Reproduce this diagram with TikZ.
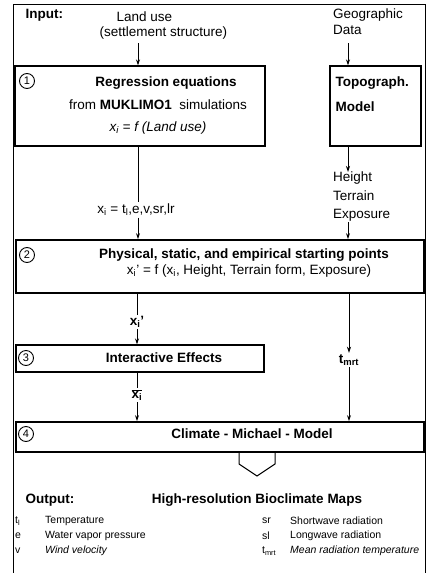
\documentclass[tikz,border=0pt]{standalone}
\usepackage{fontspec}
\setmainfont{Liberation Sans}
\usepackage{tikz}
\usetikzlibrary{arrows.meta,positioning,calc}

\begin{document}
\begin{tikzpicture}[
    x=1pt,y=-1pt,
    font=\fontsize{13.5}{16}\selectfont,
    >={Stealth[length=6pt,width=4pt]},
    stage/.style={draw,line width=1.4pt,inner sep=0pt},
    wide/.style={stage,line width=1.8pt},
    num/.style={draw,circle,line width=0.9pt,inner sep=0pt,
      minimum size=15pt,font=\fontsize{11}{12}\selectfont},
    title/.style={font=\fontsize{13.5}{16}\selectfont\bfseries},
    tag/.style={inner sep=1.5pt},
    legend/.style={anchor=west,inner sep=0pt,
      font=\fontsize{10.5}{12}\selectfont},
    flow/.style={->,line width=0.8pt},
    plain/.style={line width=0.8pt}
  ]
    \useasboundingbox (0,0) rectangle (428,573);
    % outer frame, open at the bottom edge
    \draw[line width=1pt] (13,576) -- (13,4) -- (425,4) -- (425,576);

    % inputs
    \node[title,anchor=west] (inp) at (22,15) {Input:};
    \node[anchor=west] (landuse) at (113,17) {Land use};
    \node[anchor=west] (settle) at (96,33) {(settlement structure)};
    \node[anchor=north west,align=left,inner sep=0pt] (geo) at (333,9)
      {Geographic\\Data};
    \coordinate (lu) at (138,43);
    \coordinate (gx) at (348,43);

    % stage 1 and the terrain model
    \node[stage,minimum width=250pt,minimum height=80pt] (regr) at (140,106) {};
    \node[stage,minimum width=91pt,minimum height=80pt] (topo) at (375.5,106) {};
    \node[num] (n1) at (27,81) {1};
    \node[title] (regt) at (166,83) {Regression equations};
    \node (from) at (158,105) {from \textbf{MUKLIMO1}\ \ simulations};
    \node (fx) at (158,128) {\itshape x\textsubscript{i} = f (Land use)};
    \node[title,anchor=west] (topt) at (332,83) {Topograph.};
    \node[title,anchor=west] (topm) at (332,107) {Model};

    \draw[flow] (lu) -- (lu |- regr.north);
    \draw[flow] (gx) -- (gx |- topo.north);

    \node[tag] (xi) at (136,210)
      {x\textsubscript{i} = t\textsubscript{l},e,v,sr,lr};
    \node[anchor=north west,align=left,inner sep=0pt,
      font=\fontsize{13.5}{18.5}\selectfont] (terr) at (333,172)
      {Height\\Terrain\\Exposure};

    % stage 2
    \node[wide,minimum width=408pt,minimum height=53pt] (phys) at (220,266.5) {};
    \node[num] (n2) at (27,255) {2};
    \node[title] (physt) at (244,255)
      {Physical, static, and empirical starting points};
    \node (physf) at (249,271)
      {x\textsubscript{i}' = f (x\textsubscript{i}, Height, Terrain form, Exposure)};

    \draw[plain] (regr.south -| lu) -- (xi.north -| lu);
    \draw[flow] (xi.south -| lu) -- (lu |- phys.north);
    \draw[flow] (gx |- topo.south) -- (gx |- terr.north);
    \draw[flow] (gx |- terr.south) -- (gx |- phys.north);

    % stage 3
    \node[title,tag] (xip) at (137,322) {x\textsubscript{i}'};
    \node[stage,minimum width=248pt,minimum height=27pt] (inter) at (140,358.5) {};
    \node[num] (n3) at (26,358) {3};
    \node[title] (intt) at (164,358) {Interactive Effects};
    \node[title,tag] (xbar) at (137,395) {$\overline{\mbox{x\textsubscript{i}}}$};
    \node[title,tag] (tmrt) at (349,360) {t\textsubscript{mrt}};

    \draw[plain] (phys.south -| xip) -- (xip);
    \draw[flow] (xip) -- (xip |- inter.north);
    \draw[plain] (inter.south -| xbar) -- (xbar);

    % stage 4
    \node[wide,minimum width=408pt,minimum height=30pt] (cmm) at (220,437) {};
    \node[num] (n4) at (26,434) {4};
    \node[title] (cmmt) at (252,434) {Climate - Michael - Model};

    \draw[flow] (xbar) -- (xbar |- cmm.north);
    \draw[flow] (phys.south -| tmrt) -- (tmrt);
    \draw[flow] (tmrt) -- (tmrt |- cmm.north);

    % hollow arrow to the output
    \draw[line width=1pt] (239,452) -- (239,464) -- (257,476)
      -- (275,464) -- (275,452);

    % output
    \node[title,anchor=west] (out) at (22,500) {Output:};
    \node[title] (maps) at (257,500) {High-resolution Bioclimate Maps};
    \foreach \sym/\desc/\row [count=\k] in {%
        t\textsubscript{l}/Temperature/521,
        e/Water vapor pressure/536,
        v/{\itshape Wind velocity}/551}
      {\node[legend] (ls\k) at (15,\row) {\sym};
       \node[legend] (ld\k) at (45,\row) {\desc};}
    \foreach \sym/\desc/\row [count=\k] in {%
        sr/Shortwave radiation/521,
        sl/Longwave radiation/536,
        t\textsubscript{mrt}/{\itshape Mean radiation temperature}/551}
      {\node[legend] (rs\k) at (262,\row) {\sym};
       \node[legend] (rd\k) at (290,\row) {\desc};}
  \end{tikzpicture}
\end{document}
